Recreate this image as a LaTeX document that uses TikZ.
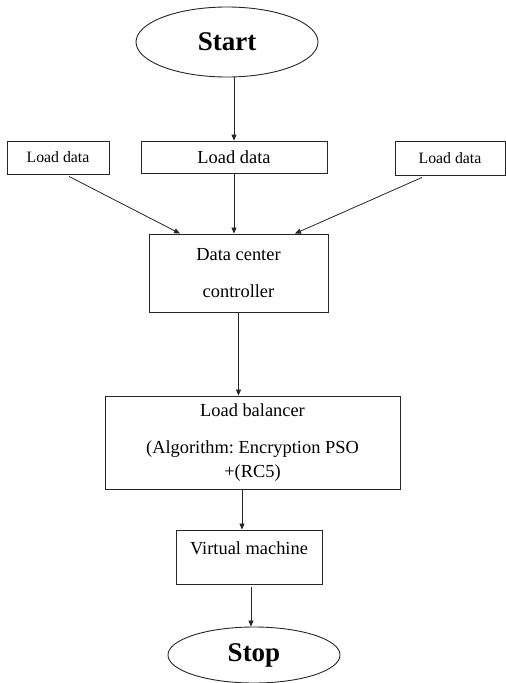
\documentclass[tikz,border=0pt]{standalone}
\usepackage{fontspec}
\setmainfont{Liberation Serif}
\usetikzlibrary{arrows.meta,calc,shapes.geometric}
\frenchspacing

\tikzset{
  ln/.style={draw=black!85, line width=0.9pt},
  procbox/.style={ln, rectangle, inner sep=0pt, align=center},
  terminal/.style={ln, ellipse, inner sep=0pt, font=\fontsize{27}{30}\selectfont\bfseries},
  arr/.style={draw=black!85, line width=0.8pt, -{Triangle[length=6pt,width=5pt]}},
  smallfont/.style={font=\fontsize{15.8}{18}\selectfont},
  bigfont/.style={font=\fontsize{18.4}{21}\selectfont}
}

\begin{document}
\begin{tikzpicture}[x=1pt,y=-1pt]
  \useasboundingbox (0,0) rectangle (506,683);

  % terminals
  \node[terminal, minimum width=182, minimum height=70] (start) at (227,42) {Start};
  \node[terminal, minimum width=172, minimum height=56] (stop) at (254,655) {Stop};

  % input boxes
  \node[procbox, smallfont, minimum width=102, minimum height=33] (ld1) at (58,157.5) {Load data};
  \node[procbox, bigfont, minimum width=186, minimum height=32] (ld2) at (234,157) {Load data};
  \node[procbox, smallfont, minimum width=110, minimum height=34] (ld3) at (450,158) {Load data};

  % processing chain
  \node[procbox, bigfont, minimum width=179, minimum height=78] (dc) at (238.5,273)
    {Data center\\[16pt]controller};
  \node[procbox, bigfont, minimum width=295, minimum height=93] (lb) at (252.5,442.5)
    {Load balancer\\[16pt](Algorithm: Encryption PSO\\[3pt]+(RC5)};
  \node[procbox, bigfont, text depth=18pt, minimum width=146, minimum height=54] (vm) at (249,557)
    {Virtual machine};

  % connectors
  \draw[arr] (ld2.north |- start.south) -- (ld2.north);
  \draw[arr] ($(ld1.south)+(11,2)$) -- ($(dc.north)+(-58.5,0)$);
  \draw[arr] (ld2.south) -- (ld2.south |- dc.north);
  \draw[arr] ($(ld3.south)+(-28,2)$) -- ($(dc.north)+(56.5,0)$);
  \draw[arr] (dc.south) -- (dc.south |- lb.north);
  \coordinate (lbout) at ($(lb.south)+(-10.5,0)$);
  \draw[arr] (lbout) -- (lbout |- vm.north);
  \draw[arr] ($(vm.south)+(2,3)$) -- ($(stop.north)+(-3,0)$);
\end{tikzpicture}
\end{document}
